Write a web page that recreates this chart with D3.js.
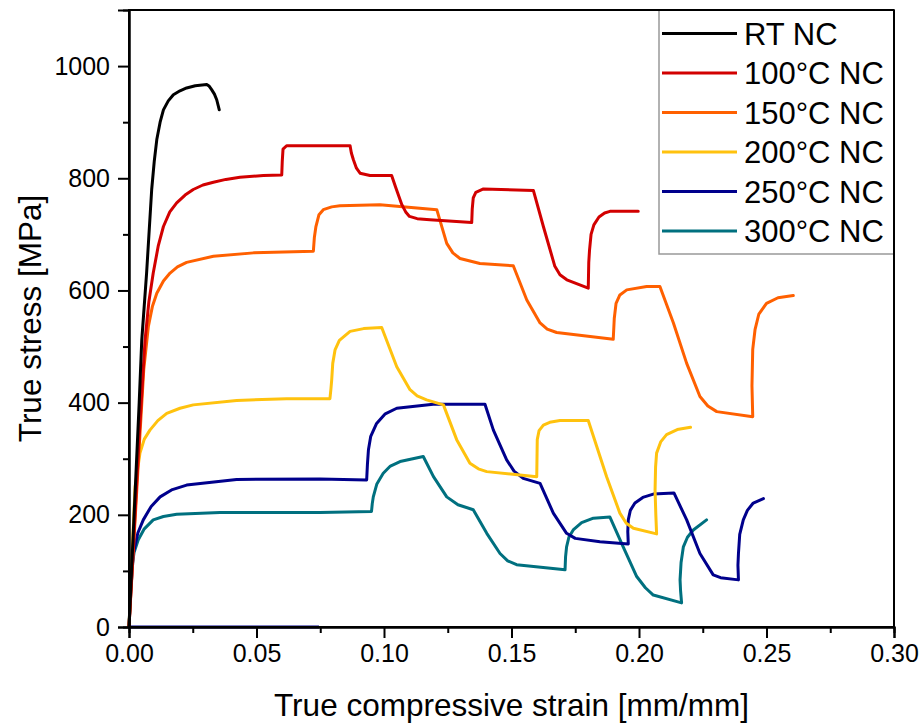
<!DOCTYPE html>
<html>
<head>
<meta charset="utf-8">
<script src="https://cdn.jsdelivr.net/npm/d3@7"></script>
<style>
  body { margin: 0; background: #fff; }
  svg { display: block; font-family: "Liberation Sans", Arial, sans-serif; }
</style>
</head>
<body>
<svg id="chart" width="922" height="723"></svg>
<script>
// ---- Data (strain [mm/mm], stress [MPa]) ----
const seriesNames = ["RT NC", "100°C NC", "150°C NC", "200°C NC", "250°C NC", "300°C NC"];
const seriesColors = ["#000000", "#d20000", "#ff6000", "#ffc20e", "#00008c", "#00707f"];

const rtNC = [[0,0],[0.002,200],[0.004,400],[0.005,511],[0.0069,631],[0.0089,780],[0.0099,830],[0.0109,869],[0.0122,900],[0.0135,922],[0.0154,938],[0.0174,949],[0.02,956],[0.0226,961],[0.026,965],[0.0305,967],[0.0315,964],[0.0324,958],[0.0335,950],[0.0344,940],[0.0354,922]];

const nc100 = [[0,0],[0.002,170],[0.004,340],[0.0063,512],[0.0078,580],[0.0095,631],[0.0115,680],[0.0135,714],[0.016,740],[0.0187,756],[0.022,770],[0.0252,780],[0.029,788],[0.0331,793],[0.038,798],[0.0435,802],[0.0527,805],[0.0599,806],[0.0601,830],[0.0604,852],[0.0618,858],[0.0867,858],[0.0872,845],[0.088,833],[0.0892,818],[0.0906,809],[0.0945,805],[0.103,805],[0.1045,785],[0.107,753],[0.1085,740],[0.110,732],[0.113,728],[0.118,726],[0.1344,721],[0.1346,745],[0.135,765],[0.136,775],[0.139,781],[0.1586,778],[0.1625,714],[0.167,643],[0.169,628],[0.1717,619],[0.1801,604],[0.1803,650],[0.1806,672],[0.1812,700],[0.1823,717],[0.1843,731],[0.1865,738],[0.1886,741],[0.1997,741]];

const nc150 = [[0,0],[0.002,160],[0.004,320],[0.0058,460],[0.0076,536],[0.0092,572],[0.0109,595],[0.0135,617],[0.0161,631],[0.019,642],[0.0226,650],[0.0331,661],[0.0488,667],[0.0723,670],[0.0727,695],[0.0733,714],[0.0745,735],[0.0762,744],[0.0795,749],[0.0827,751],[0.0984,753],[0.1207,744],[0.1246,684],[0.127,667],[0.1298,657],[0.1376,648],[0.1507,644],[0.156,583],[0.1612,542],[0.164,531],[0.1677,525],[0.1899,513],[0.1903,550],[0.191,577],[0.1925,592],[0.1952,601],[0.203,607],[0.2082,607],[0.2135,542],[0.2187,470],[0.2239,411],[0.227,394],[0.2305,384],[0.2446,375],[0.2443,430],[0.2446,495],[0.2455,530],[0.247,558],[0.25,577],[0.2545,587],[0.2605,591]];

const nc200 = [[0,0],[0.0012,130],[0.0024,250],[0.0043,310],[0.006,335],[0.0082,351],[0.0113,368],[0.0148,381],[0.02,390],[0.0252,396],[0.0422,404],[0.0618,407],[0.0788,407],[0.0792,425],[0.0795,441],[0.0799,470],[0.0808,494],[0.0825,511],[0.0867,527],[0.092,532],[0.0991,534],[0.105,464],[0.1102,423],[0.113,412],[0.1167,405],[0.1233,396],[0.1285,334],[0.1337,292],[0.137,282],[0.1403,277],[0.1599,268],[0.1601,334],[0.1608,350],[0.1625,360],[0.165,365],[0.169,368],[0.1801,368],[0.1873,268],[0.1925,203],[0.195,185],[0.1978,176],[0.2069,166],[0.2066,200],[0.2063,244],[0.2065,285],[0.2069,310],[0.2085,330],[0.2108,343],[0.215,352],[0.2202,356]];

const nc250 = [[0,0],[0.0008,70],[0.0017,131],[0.0035,168],[0.0056,191],[0.0087,215],[0.0122,232],[0.017,245],[0.0226,253],[0.0422,263],[0.0749,264],[0.0932,262],[0.0935,290],[0.0939,316],[0.0948,340],[0.0971,363],[0.1005,380],[0.105,390],[0.1193,397],[0.1396,397],[0.1429,351],[0.1481,298],[0.151,278],[0.1546,265],[0.1612,256],[0.1664,203],[0.1716,167],[0.175,158],[0.1847,152],[0.1958,148],[0.1956,170],[0.1958,191],[0.1966,208],[0.1984,221],[0.2015,231],[0.2056,237],[0.2137,239],[0.2187,191],[0.2239,131],[0.2291,93],[0.232,88],[0.239,84],[0.2388,110],[0.239,131],[0.2395,165],[0.2409,191],[0.2425,208],[0.2448,221],[0.2488,229]];
const nc250Zero = [[0,0],[0.0745,0]];

const nc300 = [[0,0],[0.0005,55],[0.001,102],[0.002,133],[0.0036,155],[0.006,175],[0.0095,191],[0.0135,197],[0.0187,201],[0.0357,204],[0.0749,204],[0.0951,206],[0.0954,220],[0.0958,232],[0.0972,255],[0.0997,274],[0.1025,287],[0.1063,295],[0.1154,304],[0.1194,268],[0.1246,232],[0.129,218],[0.135,209],[0.1403,167],[0.1455,131],[0.1485,118],[0.152,111],[0.171,102],[0.1712,125],[0.1716,143],[0.1725,160],[0.1742,173],[0.1775,186],[0.1821,194],[0.1886,196],[0.1938,143],[0.1991,90],[0.2025,70],[0.2056,57],[0.2167,43],[0.2163,65],[0.2161,84],[0.2165,115],[0.2174,143],[0.219,160],[0.2213,173],[0.2265,191]];

const seriesData = [rtNC, nc100, nc150, nc200, nc250, nc300];

const xMajorTicks = [0, 0.05, 0.10, 0.15, 0.20, 0.25, 0.30];
const xMinorTicks = [0.025, 0.075, 0.125, 0.175, 0.225, 0.275];
const yMajorTicks = [0, 200, 400, 600, 800, 1000];
const yMinorTicks = [100, 300, 500, 700, 900];

(function () {
const svg = d3.select("#chart");
const pL = 129, pT = 10, pR = 894, pB = 627;

const x = d3.scaleLinear().domain([0, 0.30]).range([pL, pR]);
const y = d3.scaleLinear().domain([0, 1100]).range([pB, pT]);

const line = d3.line().x(d => x(d[0])).y(d => y(d[1])).curve(d3.curveLinear);
const plot = svg.append("g");

plot.append("path").datum(nc250Zero)
  .attr("d", line).attr("fill", "none").attr("stroke", seriesColors[4]).attr("stroke-width", 3);

[5,4,3,2,1,0].forEach(i => {
  plot.append("path").datum(seriesData[i])
    .attr("d", line)
    .attr("fill", "none")
    .attr("stroke", seriesColors[i])
    .attr("stroke-width", 3)
    .attr("stroke-linejoin", "round")
    .attr("stroke-linecap", "round");
});

svg.append("rect").attr("x", pL).attr("y", pT)
  .attr("width", pR - pL).attr("height", pB - pT)
  .attr("fill", "none").attr("stroke", "#000").attr("stroke-width", 2);

const xAxis = d3.axisBottom(x).tickValues(xMajorTicks).tickFormat(d3.format(".2f")).tickSize(11).tickPadding(6);
const xMinor = d3.axisBottom(x).tickValues(xMinorTicks).tickFormat("").tickSize(6);
const yAxis = d3.axisLeft(y).tickValues(yMajorTicks).tickFormat(d3.format("d")).tickSize(11).tickPadding(8);
const yMinor = d3.axisLeft(y).tickValues(yMinorTicks).tickFormat("").tickSize(6);

function styleAxis(g) {
  g.select(".domain").attr("stroke", "#000").attr("stroke-width", 2);
  g.selectAll(".tick line").attr("stroke", "#000").attr("stroke-width", 2);
  g.selectAll(".tick text").attr("fill", "#000").attr("font-size", 25)
    .attr("font-family", "'Liberation Sans', Arial, sans-serif");
}
svg.append("g").attr("transform", `translate(0,${pB})`).call(xAxis).call(styleAxis);
svg.append("g").attr("transform", `translate(0,${pB})`).call(xMinor).call(styleAxis);
svg.append("g").attr("transform", `translate(${pL},0)`).call(yAxis).call(styleAxis);
svg.append("g").attr("transform", `translate(${pL},0)`).call(yMinor).call(styleAxis);

svg.append("text").attr("x", (pL + pR) / 2).attr("y", 716)
  .attr("text-anchor", "middle").attr("font-size", 31.5).attr("fill", "#000")
  .text("True compressive strain [mm/mm]");
svg.append("text").attr("transform", `translate(41,${(pT + pB) / 2}) rotate(-90)`)
  .attr("text-anchor", "middle").attr("font-size", 31.5).attr("fill", "#000")
  .text("True stress [MPa]");

const lg = svg.append("g");
lg.append("rect").attr("x", 659).attr("y", pT).attr("width", pR - 659).attr("height", 244)
  .attr("fill", "#fff").attr("stroke", "#999").attr("stroke-width", 1.5);
seriesNames.forEach((name, i) => {
  const cy = 33.5 + i * 39.5;
  lg.append("line").attr("x1", 662).attr("x2", 737).attr("y1", cy).attr("y2", cy)
    .attr("stroke", seriesColors[i]).attr("stroke-width", 3);
  lg.append("text").attr("x", 744).attr("y", cy).attr("dy", "0.36em")
    .attr("font-size", 31).attr("fill", "#000").text(name);
});
svg.append("line").attr("x1", pR).attr("x2", pR).attr("y1", pT).attr("y2", pB)
  .attr("stroke", "#000").attr("stroke-width", 2);
svg.append("line").attr("x1", pL).attr("x2", pR).attr("y1", pT).attr("y2", pT)
  .attr("stroke", "#000").attr("stroke-width", 2);
})();
</script>
</body>
</html>
